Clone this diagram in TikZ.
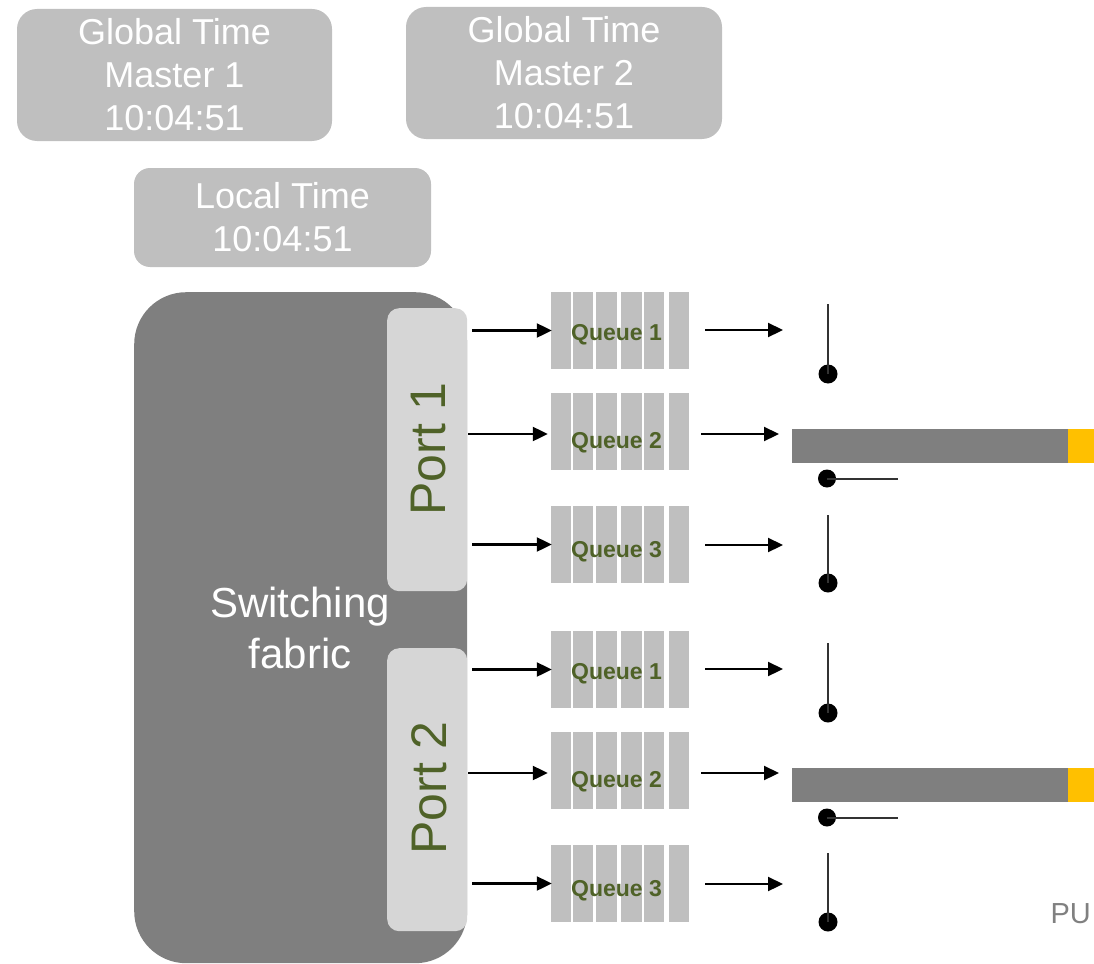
\documentclass[tikz,border=0pt]{standalone}
\usepackage{fontspec}
\setmainfont{Liberation Sans}
\usetikzlibrary{arrows.meta}
\definecolor{boxgray}{HTML}{BFBFBF}
\definecolor{fabricgray}{HTML}{7F7F7F}
\definecolor{portgray}{HTML}{D6D6D6}
\definecolor{olive}{HTML}{4F6228}
\definecolor{amber}{HTML}{FFC000}
\definecolor{inkgray}{HTML}{808080}

\tikzset{
  timebox/.style={fill=boxgray, rounded corners=20pt, text=white, align=center,
    inner sep=0pt, font=\fontsize{36}{43}\selectfont},
  fabricbox/.style={fill=fabricgray, rounded corners=52pt, inner sep=0pt,
    minimum width=333pt, minimum height=671pt, anchor=north west},
  fabrictext/.style={text=white, align=center, font=\fontsize{42}{51}\selectfont},
  portbox/.style={fill=portgray, rounded corners=12pt, inner sep=0pt,
    minimum width=80pt, minimum height=283pt, anchor=north west},
  porttext/.style={rotate=90, text=olive, inner sep=0pt, font=\fontsize{50}{60}\selectfont},
  qbox/.style={minimum width=138pt, minimum height=77pt, inner sep=0pt},
  qtext/.style={inner sep=0pt, text=olive, font=\bfseries\fontsize{23}{28}\selectfont},
  link/.style={line width=2.2pt, -{Triangle[length=15pt,width=14pt]}},
  dot/.style={circle, fill=black, minimum size=19pt, inner sep=0pt},
  gateline/.style={line width=2pt, draw=black!80},
  busybar/.style={fill=fabricgray, inner sep=0pt, minimum width=276pt,
    minimum height=34pt, anchor=north west},
  framebit/.style={fill=amber, inner sep=0pt, minimum width=26pt,
    minimum height=34pt, anchor=north west},
}

% one queue: six slots with its label on top
% #1 name, #2 centre y, #3 label, #4 label drop
\newcommand\queueblock[4]{%
  \foreach \a/\b in {551/571,573/593,596/617,621/642,644/664,669/689}
    \fill[boxgray] (\a,#2-38.5) rectangle (\b,#2+38.5);
  \node[qbox] (#1) at (620,#2) {};
  \node[qtext] (#1txt) at ([shift={(-3.5pt,-#4pt)}]#1.center) {#3};
}

\begin{document}
\begin{tikzpicture}[x=1pt,y=-1pt]
\useasboundingbox (0,0) rectangle (1094,963);

% clocks
\node[timebox, minimum width=315pt, minimum height=132pt] (gm1) at (174.5,75)
  {Global Time\\Master 1\\10:04:51};
\node[timebox, minimum width=316pt, minimum height=132pt] (gm2) at (564,73)
  {Global Time\\Master 2\\10:04:51};
\node[timebox, rounded corners=16pt, minimum width=297pt, minimum height=99pt] (lt) at (282.5,217.5)
  {Local Time\\10:04:51};

% switch body and its ports
\node[fabricbox] (fab) at (134,292) {};
\node[fabrictext] (fabtxt) at (300,628) {Switching\\fabric};
\node[portbox] (port1) at (387,308) {};
\node[porttext] (port1txt) at (429,449) {Port 1};
\node[portbox] (port2) at (387,648) {};
\node[porttext] (port2txt) at (429,788) {Port 2};

% queues
\queueblock{q11}{330.5}{Queue 1}{4.5}
\queueblock{q12}{431.5}{Queue 2}{11.5}
\queueblock{q13}{544.5}{Queue 3}{7.5}
\queueblock{q21}{669.5}{Queue 1}{4.5}
\queueblock{q22}{770.5}{Queue 2}{11.5}
\queueblock{q23}{883.5}{Queue 3}{7.5}

% port to queue
\draw[link] ([xshift=5pt]port1.east |- q11.west) -- ([xshift=1pt]q11.west);
\draw[link] ([shift={(1pt,-2.5pt)}]port1.east |- q12.west) -- ([shift={(-3pt,-2.5pt)}]q12.west);
\draw[link] ([xshift=5pt]port1.east |- q13.west) -- ([xshift=1pt]q13.west);
\draw[link] ([xshift=5pt]port2.east |- q21.west) -- ([xshift=1pt]q21.west);
\draw[link] ([shift={(1pt,-2.5pt)}]port2.east |- q22.west) -- ([shift={(-3pt,-2.5pt)}]q22.west);
\draw[link] ([xshift=5pt]port2.east |- q23.west) -- ([xshift=1pt]q23.west);

% gates: open ones are upright, closed ones lie flat
\node[dot] (d11) at (828,374) {};
\coordinate (t11) at (828,304);
\draw[gateline] (t11) -- (d11.center);
\node[dot] (d13) at (828,583) {};
\coordinate (t13) at (828,515);
\draw[gateline] (t13) -- (d13.center);
\node[dot] (d21) at (828,713) {};
\coordinate (t21) at (828,643);
\draw[gateline] (t21) -- (d21.center);
\node[dot] (d23) at (828,922) {};
\coordinate (t23) at (828,853);
\draw[gateline] (t23) -- (d23.center);

\node[dot, minimum size=18pt] (d12) at (827,478.5) {};
\coordinate (t12) at (898,478.5);
\draw[gateline] (d12.center) -- (t12);
\node[dot, minimum size=18pt] (d22) at (827,817.5) {};
\coordinate (t22) at (898,817.5);
\draw[gateline] (d22.center) -- (t22);

% frames on the wire
\node[busybar] (bar1) at (792,429) {};
\node[framebit] (fr1) at (1068,429) {};
\node[busybar] (bar2) at (792,768) {};
\node[framebit] (fr2) at (1068,768) {};

% queue to gate
\coordinate (e11) at (783,330);
\coordinate (e13) at (783,545);
\coordinate (e21) at (783,669);
\coordinate (e23) at (783,884);
\draw[link] ([xshift=16pt]q11.east |- e11) -- (e11);
\draw[link] ([xshift=16pt]q13.east |- e13) -- (e13);
\draw[link] ([xshift=16pt]q21.east |- e21) -- (e21);
\draw[link] ([xshift=16pt]q23.east |- e23) -- (e23);
\draw[link] ([shift={(12pt,-2.5pt)}]q12.east) -- ([shift={(-13pt,-2.5pt)}]q12.east -| bar1.west);
\draw[link] ([shift={(12pt,-2.5pt)}]q22.east) -- ([shift={(-13pt,-2.5pt)}]q22.east -| bar2.west);

\node[text=inkgray, font=\fontsize{29}{34}\selectfont, anchor=east, inner sep=0pt] (pu) at (1091,914) {PU};
\end{tikzpicture}
\end{document}
